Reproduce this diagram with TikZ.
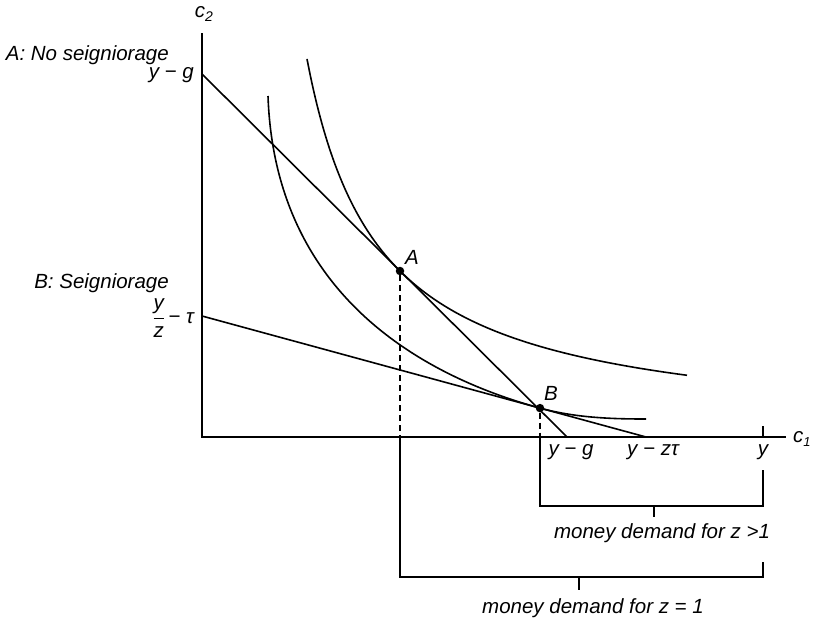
\documentclass[tikz,border=0pt]{standalone}
\usepackage{fontspec}
\setmainfont{Liberation Sans}
\begin{document}
\begin{tikzpicture}[x=1pt,y=-1pt,
  ln/.style={line width=1.6pt, black},
  thin/.style={line width=1.2pt, black},
  dsh/.style={line width=1.2pt, dash pattern=on 6pt off 4pt},
  lbl/.style={font=\fontsize{20.5}{22}\selectfont\itshape, inner sep=1pt},
  dot/.style={circle, fill=black, inner sep=0pt, minimum size=8.5pt}]
\useasboundingbox (0,0) rectangle (813,619);
% axes
\coordinate (O) at (202,437);
\coordinate (ytop) at (202,33);
\coordinate (xend) at (786,437);
\draw[ln] (ytop) -- (O) -- (xend);
\node[lbl] (c2) at (204,14) {c\raisebox{-0.45ex}{\fontsize{14}{15}\selectfont 2}};
\node[lbl, anchor=west] (c1) at (792,439) {c\raisebox{-0.45ex}{\fontsize{13}{14}\selectfont 1}};
% budget lines
\coordinate (Ay) at (202,74);
\coordinate (Ax) at (567,437);
\coordinate (By) at (202,316);
\coordinate (Bx) at (646,437);
\draw[ln] (Ay) -- (Ax);
\draw[ln] (By) -- (Bx);
% indifference curves
\draw[ln, domain=307:687, samples=120, smooth] plot (\x, {435.2 - 270.89/(\x/100-2.35)});
\draw[ln] (268,96) .. controls (275,300) and (430,378) .. (540,408.1)
          .. controls (575,417.6) and (610,419) .. (646,419);
% points
\node[dot] (A) at (400,271) {};
\node[dot] (B) at (540,408.1) {};
\node[lbl] (Alab) at (412,257) {A};
\node[lbl] (Blab) at (551,393) {B};
% dashed drops
\coordinate (Ab) at (400,437);
\coordinate (Bb) at (540,437);
\draw[dsh] (A) -- (Ab);
\draw[dsh] (B) -- (Bb);
% brackets
\coordinate (A2) at (400,577);
\coordinate (B2) at (540,506);
\coordinate (Y1) at (763,506);
\coordinate (Y1t) at (763,470);
\coordinate (Y2) at (763,577);
\coordinate (Y2t) at (763,562);
\draw[thin] (Bb) -- (B2) -- (Y1) -- (Y1t);
\draw[thin] (Ab) -- (A2) -- (Y2) -- (Y2t);
\coordinate (t1a) at (654,506);
\coordinate (t1b) at (654,517);
\coordinate (t2a) at (579,577);
\coordinate (t2b) at (579,590);
\draw[thin] (t1a) -- (t1b);
\draw[thin] (t2a) -- (t2b);
% y tick
\coordinate (yt1) at (763,426);
\coordinate (yt2) at (763,437);
\draw[thin] (yt1) -- (yt2);
% axis labels
\node[lbl, anchor=east] (noseig) at (170,55) {A: No seigniorage};
\node[lbl, anchor=east] (yg1) at (195,75) {y − g};
\node[lbl, anchor=east] (seig) at (170,283) {B: Seigniorage};
\node[lbl, anchor=east] (yz) at (195,318) {$\displaystyle\frac{\hbox{\itshape y}}{\hbox{\itshape z}}$\,− τ};
\node[lbl] (yg2) at (571,452) {y − g};
\node[lbl] (yzt) at (653,452) {y − zτ};
\node[lbl] (yy) at (763,452) {y};
\node[lbl] (md1) at (662,533) {money demand for z >1};
\node[lbl] (md2) at (593,608) {money demand for z = 1};
\end{tikzpicture}
\end{document}
